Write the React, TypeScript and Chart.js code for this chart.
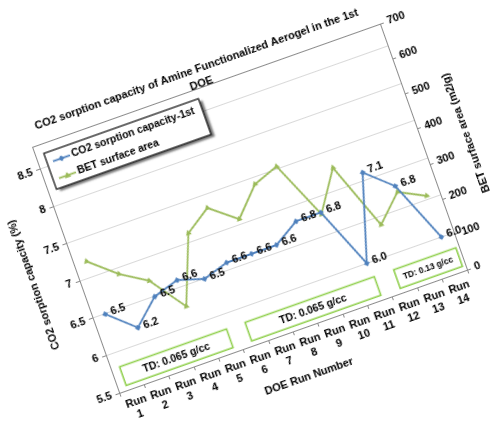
import React, { useEffect, useRef } from "react";
import { Chart, registerables } from "chart.js";

Chart.register(...registerables);

// ---- data ----
const RUN_NUMBERS = [1, 2, 3, 4, 5, 6, 7, 8, 9, 10, 11, 12, 13, 14];
const CO2_CAPACITY = [6.5, 6.2, 6.5, 6.6, 6.5, 6.6, 6.6, 6.6, 6.8, 6.8, 6.0, 7.1, 6.8, 6.0];
const BET_AREA = [362, 301, 257, 159, 342, 389, 332, 406, 432, 271, 378, 191, 259, 223];
const LEFT_TICKS = [5.5, 6, 6.5, 7, 7.5, 8, 8.5];
const RIGHT_TICKS = [0, 100, 200, 300, 400, 500, 600, 700];
const TD_TEXT = ["TD: 0.065 g/cc", "TD: 0.065 g/cc", "TD: 0.13 g/cc"];

const TITLE_LINES = ["CO2 sorption capacity of Amine Functionalized Aerogel in the 1st", "DOE"];
const SERIES_CO2 = "CO2 sorption capacity-1st";
const SERIES_BET = "BET surface area";
const X_TITLE = "DOE Run Number";
const LEFT_TITLE = "CO2 sorption capacity (%)";
const RIGHT_TITLE = "BET surface area (m2/g)";

// ---- styling ----
const FONT = "'Liberation Sans', Arial, sans-serif";
const BLUE = "#4F81BD";
const GREEN = "#9BBB59";
const BOX_GREEN = "#92D050";
const GRID = "#d9d9d9";
const AXIS = "#8c8c8c";
const TEXT = "#000000";

// TD group boxes: span in category-index units, plus font size
const TD_SPANS: [number, number, number][] = [
  [-0.15, 4.15, 10.5],
  [4.9, 10.1, 10.5],
  [10.88, 13.38, 8.5],
];
// box bottom / top in left-axis units
const TD_Y = [5.56, 5.81];

const CW = 482;
const CH = 350;

function diamond(ctx: CanvasRenderingContext2D, x: number, y: number, r: number) {
  ctx.beginPath();
  ctx.moveTo(x, y - r);
  ctx.lineTo(x + r, y);
  ctx.lineTo(x, y + r);
  ctx.lineTo(x - r, y);
  ctx.closePath();
  ctx.fill();
}

function triangle(ctx: CanvasRenderingContext2D, x: number, y: number, r: number) {
  ctx.beginPath();
  ctx.moveTo(x, y - r);
  ctx.lineTo(x + r * 0.95, y + r * 0.65);
  ctx.lineTo(x - r * 0.95, y + r * 0.65);
  ctx.closePath();
  ctx.fill();
}

const framePlugin = {
  id: "frameAndGroups",
  beforeDatasetsDraw(chart: any) {
    const { ctx, chartArea: a, scales } = chart;
    ctx.save();
    // top edge of the plot frame
    ctx.strokeStyle = AXIS;
    ctx.lineWidth = 1;
    ctx.beginPath();
    ctx.moveTo(a.left, a.top + 0.5);
    ctx.lineTo(a.right, a.top + 0.5);
    ctx.stroke();

    // TD group boxes
    const xs = scales.x;
    const ys = scales.y;
    TD_SPANS.forEach(([from, to, size], i) => {
      const x1 = xs.getPixelForValue(from);
      const x2 = xs.getPixelForValue(to);
      const y1 = ys.getPixelForValue(TD_Y[1]);
      const y2 = ys.getPixelForValue(TD_Y[0]);
      ctx.fillStyle = "#ffffff";
      ctx.fillRect(x1, y1, x2 - x1, y2 - y1);
      ctx.strokeStyle = BOX_GREEN;
      ctx.lineWidth = 1.6;
      ctx.strokeRect(x1, y1, x2 - x1, y2 - y1);
      ctx.fillStyle = TEXT;
      ctx.font = `bold ${size}px ${FONT}`;
      ctx.textAlign = "center";
      ctx.textBaseline = "middle";
      ctx.fillText(TD_TEXT[i], (x1 + x2) / 2, (y1 + y2) / 2 + 0.5);
    });
    ctx.restore();
  },
  afterDatasetsDraw(chart: any) {
    const { ctx } = chart;
    const meta = chart.getDatasetMeta(0);
    ctx.save();
    ctx.fillStyle = TEXT;
    ctx.font = `bold 11px ${FONT}`;
    ctx.textAlign = "left";
    ctx.textBaseline = "middle";
    meta.data.forEach((pt: any, i: number) => {
      ctx.fillText(CO2_CAPACITY[i].toFixed(1), pt.x + 6, pt.y);
    });
    ctx.restore();
  },
  afterDraw(chart: any) {
    const { ctx, chartArea: a } = chart;
    ctx.save();

    // right axis title, reading bottom to top
    ctx.fillStyle = TEXT;
    ctx.font = `bold 11px ${FONT}`;
    ctx.textAlign = "center";
    ctx.textBaseline = "middle";
    ctx.translate(chart.width - 8, (a.top + a.bottom) / 2 + 1);
    ctx.rotate(-Math.PI / 2);
    ctx.fillText(RIGHT_TITLE, 0, 0);
    ctx.setTransform(1, 0, 0, 1, 0, 0);
    ctx.restore();

    // legend box with drop shadow
    ctx.save();
    const bx = a.left + 9;
    const by = a.top + 10;
    const bw = 164;
    const bh = 38;
    ctx.shadowColor = "rgba(0,0,0,0.55)";
    ctx.shadowBlur = 2;
    ctx.shadowOffsetX = 3;
    ctx.shadowOffsetY = 3;
    ctx.fillStyle = "#ffffff";
    ctx.fillRect(bx, by, bw, bh);
    ctx.shadowColor = "transparent";
    ctx.strokeStyle = "#1a1a1a";
    ctx.lineWidth = 1.3;
    ctx.strokeRect(bx, by, bw, bh);

    const entries = chart.data.datasets;
    const rows = [a.top + 20.5, a.top + 38.5];
    entries.forEach((ds: any, i: number) => {
      const y = rows[i];
      const x1 = a.left + 15;
      const x2 = a.left + 33;
      ctx.strokeStyle = ds.borderColor;
      ctx.lineWidth = 1.8;
      ctx.beginPath();
      ctx.moveTo(x1, y);
      ctx.lineTo(x2, y);
      ctx.stroke();
      ctx.fillStyle = ds.borderColor;
      if (ds.pointStyle === "triangle") triangle(ctx, (x1 + x2) / 2, y, 3.5);
      else diamond(ctx, (x1 + x2) / 2, y, 3);
      ctx.fillStyle = TEXT;
      ctx.font = `bold 10.5px ${FONT}`;
      ctx.textAlign = "left";
      ctx.textBaseline = "middle";
      ctx.fillText(ds.label, a.left + 35, y);
    });
    ctx.restore();
  },
};

export default function App() {
  const ref = useRef<HTMLCanvasElement>(null);

  useEffect(() => {
    const canvas = ref.current;
    if (!canvas) return;
    const tickFont = { family: FONT, size: 11, weight: "bold" as const };

    const chart = new Chart(canvas, {
      type: "line",
      data: {
        labels: RUN_NUMBERS.map((n) => ["Run", String(n)]),
        datasets: [
          {
            label: SERIES_CO2,
            data: CO2_CAPACITY,
            yAxisID: "y",
            borderColor: BLUE,
            backgroundColor: BLUE,
            borderWidth: 1.8,
            pointStyle: "rectRot",
            pointRadius: 3,
            pointBorderWidth: 0,
            tension: 0,
          },
          {
            label: SERIES_BET,
            data: BET_AREA,
            yAxisID: "y1",
            borderColor: GREEN,
            backgroundColor: GREEN,
            borderWidth: 1.8,
            pointStyle: "triangle",
            pointRadius: 3.5,
            pointBorderWidth: 0,
            tension: 0,
          },
        ],
      },
      options: {
        responsive: false,
        animation: false,
        events: [],
        layout: { padding: 0 },
        plugins: {
          legend: { display: false },
          tooltip: { enabled: false },
          title: {
            display: true,
            text: TITLE_LINES,
            color: TEXT,
            font: { family: FONT, size: 11, weight: "bold", lineHeight: 1.35 },
            padding: { top: 4.6, bottom: -4.3 },
          },
        },
        scales: {
          x: {
            offset: true,
            grid: { offset: true, drawOnChartArea: false, tickLength: 4, color: AXIS },
            border: { color: AXIS },
            ticks: { font: tickFont, color: TEXT, padding: 3, maxRotation: 0, autoSkip: false },
            title: {
              display: true,
              text: X_TITLE,
              color: TEXT,
              font: tickFont,
              padding: { top: 0, bottom: 4.4 },
            },
            afterFit: (s: any) => {
              s.height = 59;
            },
          },
          y: {
            position: "left",
            min: 5.5,
            max: 8.8,
            afterBuildTicks: (s: any) => {
              s.ticks = LEFT_TICKS.map((v) => ({ value: v }));
            },
            grid: { color: GRID, tickLength: 4, tickColor: AXIS },
            border: { color: AXIS },
            ticks: { font: tickFont, color: TEXT, padding: 4, callback: (v: any) => String(v) },
            title: {
              display: true,
              text: LEFT_TITLE,
              color: TEXT,
              font: tickFont,
              padding: { top: 9.4, bottom: 0 },
            },
            afterFit: (s: any) => {
              s.width = 60;
            },
          },
          y1: {
            position: "right",
            min: 0,
            max: 700,
            afterBuildTicks: (s: any) => {
              s.ticks = RIGHT_TICKS.map((v) => ({ value: v }));
            },
            grid: { drawOnChartArea: false, tickLength: 4, color: AXIS },
            border: { color: AXIS },
            ticks: { font: tickFont, color: TEXT, padding: 4, callback: (v: any) => String(v) },
            afterFit: (s: any) => {
              s.width = 53;
            },
          },
        },
      },
      plugins: [framePlugin],
    } as any);

    return () => chart.destroy();
  }, []);

  return (
    <canvas
      ref={ref}
      width={CW}
      height={CH}
      style={{
        position: "fixed",
        left: 0,
        top: 0,
        width: CW,
        height: CH,
        transformOrigin: "0 0",
        transform: "translate(-34.57px, 138.75px) rotate(-19.5deg)",
      }}
    />
  );
}
